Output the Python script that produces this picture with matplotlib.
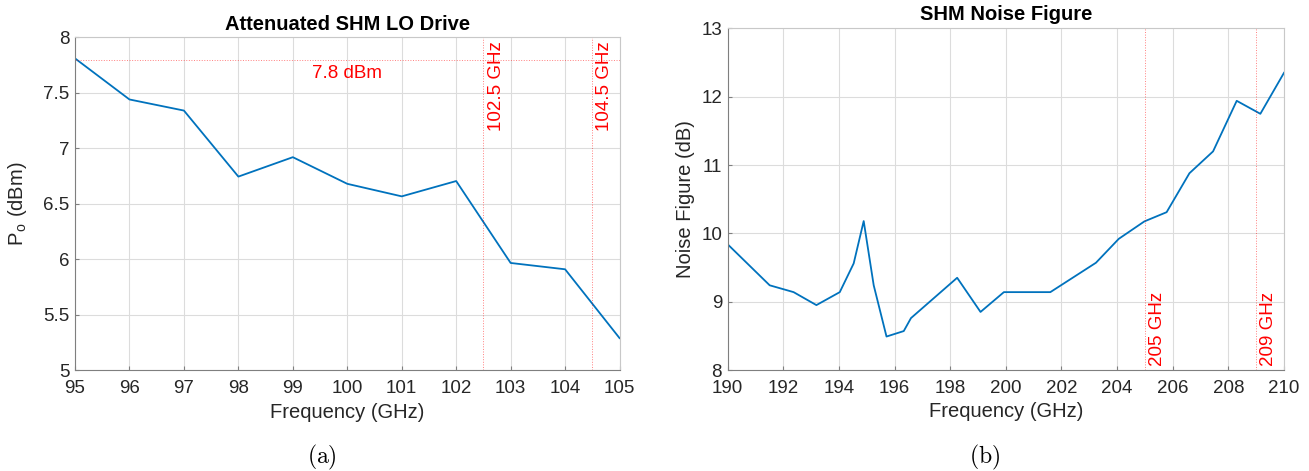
import numpy as np
import matplotlib
matplotlib.use('agg')
import matplotlib.pyplot as plt
from matplotlib.ticker import FuncFormatter

plt.rcParams['font.family'] = ['Liberation Sans', 'DejaVu Sans']
plt.rcParams['mathtext.fontset'] = 'cm'
plt.rcParams['font.size'] = 13

# attenuated LO drive, output power vs frequency
lo_freq = [95, 96, 97, 98, 99, 100, 101, 102, 103, 104, 105]
lo_pout = [7.81, 7.44, 7.34, 6.745, 6.92, 6.68, 6.567, 6.705, 5.967, 5.91, 5.29]
lo_ref_level = 7.8
lo_band = [102.5, 104.5]

# SHM noise figure vs RF frequency
nf_freq = [190.0, 191.51, 192.37, 193.19, 194.03, 194.53, 194.89, 195.25, 195.71,
           196.33, 196.59, 198.25, 199.09, 199.93, 201.6, 203.24, 204.06, 204.98,
           205.78, 206.6, 207.45, 208.3, 209.15, 210.0]
nf_db = [9.84, 9.24, 9.14, 8.95, 9.14, 9.56, 10.18, 9.24, 8.49,
         8.57, 8.76, 9.35, 8.85, 9.14, 9.14, 9.57, 9.92, 10.175,
         10.31, 10.88, 11.20, 11.94, 11.75, 12.35]
nf_band = [205, 209]

blue = '#0072BD'
grid_c = '#dcdcdc'
spine_c = '#7f7f7f'
text_c = '#262626'


def style_axes(ax):
    ax.grid(True, color=grid_c, lw=0.8)
    ax.set_axisbelow(True)
    for s in ax.spines.values():
        s.set_color('#c8c8c8')
        s.set_linewidth(0.8)
    ax.spines['left'].set_color(spine_c)
    ax.spines['bottom'].set_color(spine_c)
    ax.tick_params(direction='in', length=3, color=spine_c, labelcolor=text_c,
                   labelsize=13.5)
    ax.tick_params(axis='x', pad=7)
    ax.tick_params(axis='y', pad=4)


def band_line(ax, x, label, top=True):
    ax.axvline(x, color='red', ls=':', lw=0.7, alpha=0.5)
    if top:
        ax.annotate(label, xy=(x, 1), xycoords=('data', 'axes fraction'),
                    xytext=(3, -3), textcoords='offset points', rotation=90,
                    ha='left', va='top', color='red', fontsize=13.5)
    else:
        ax.annotate(label, xy=(x, 0), xycoords=('data', 'axes fraction'),
                    xytext=(3, 3), textcoords='offset points', rotation=90,
                    ha='left', va='bottom', color='red', fontsize=13.5)


fig = plt.figure(figsize=(13.09, 4.71), dpi=100)
ax1 = fig.add_axes([0.0573, 0.2138, 0.4160, 0.7070])
ax2 = fig.add_axes([0.5559, 0.2144, 0.4250, 0.7253])

# (a) LO drive
style_axes(ax1)
ax1.plot(lo_freq, lo_pout, color=blue, lw=1.3)
ax1.axhline(lo_ref_level, color='red', ls=':', lw=0.7, alpha=0.5)
ax1.text(100, 7.676, '%.1f dBm' % lo_ref_level, color='red', fontsize=13.5,
         ha='center', va='center')
for f in lo_band:
    band_line(ax1, f, '%.1f GHz' % f, top=True)
ax1.set_xlim(95, 105)
ax1.set_ylim(5, 8)
ax1.set_xticks(np.arange(95, 106, 1))
ax1.set_yticks(np.arange(5, 8.01, 0.5))
ax1.yaxis.set_major_formatter(FuncFormatter(lambda v, p: '%g' % v))
ax1.set_xlabel('Frequency (GHz)', fontsize=14.5, color=text_c)
ax1.set_ylabel(r'P$_{\mathregular{o}}$ (dBm)', fontsize=14.5, color=text_c)
ax1.yaxis.set_label_coords(-0.085, 0.5)
ax1.set_title('Attenuated SHM LO Drive', fontsize=14.5, fontweight='bold', pad=5)

# (b) noise figure
style_axes(ax2)
ax2.plot(nf_freq, nf_db, color=blue, lw=1.3)
for f in nf_band:
    band_line(ax2, f, '%d GHz' % f, top=False)
ax2.set_xlim(190, 210)
ax2.set_ylim(8, 13)
ax2.set_xticks(np.arange(190, 211, 2))
ax2.set_yticks(np.arange(8, 14, 1))
ax2.set_xlabel('Frequency (GHz)', fontsize=14.5, color=text_c)
ax2.set_ylabel('Noise Figure (dB)', fontsize=14.5, color=text_c)
ax2.yaxis.set_label_coords(-0.059, 0.5)
ax2.set_title('SHM Noise Figure', fontsize=14.5, fontweight='bold', pad=6)

fig.text(322 / 1309, 1 - 457 / 471, r'$\mathrm{(a)}$', fontsize=17,
         ha='center', va='center')
fig.text(985 / 1309, 1 - 457 / 471, r'$\mathrm{(b)}$', fontsize=17,
         ha='center', va='center')

plt.savefig('out.png', dpi=100)
